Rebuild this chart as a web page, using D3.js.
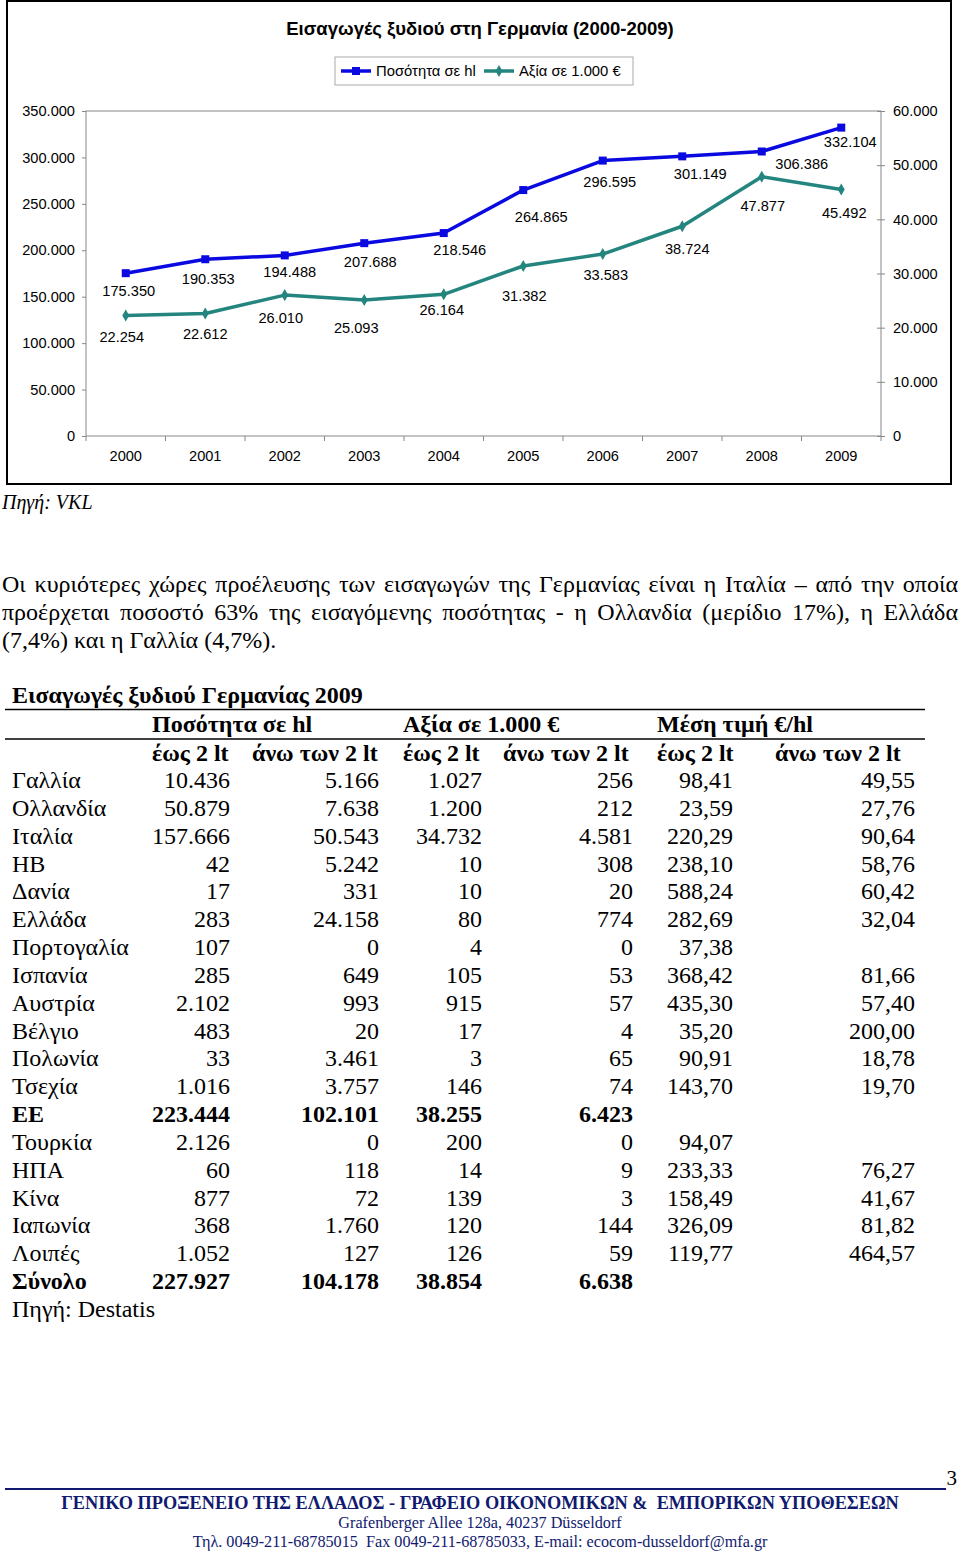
<!DOCTYPE html>
<html>
<head>
<meta charset="utf-8">
<script src="https://cdn.jsdelivr.net/npm/d3@7"></script>
<style>
  body { margin: 0; background: #fff; }
  #wrap { position: relative; width: 960px; height: 1557px; overflow: hidden; }
  #page { position: absolute; left: 0; top: 0; }
  .para { position: absolute; left: 2px; width: 956px; font-family: 'Liberation Serif', serif; font-size: 24px; line-height: 28px; color: #000; white-space: nowrap; }
  .para.just { text-align: justify; text-align-last: justify; }
</style>
</head>
<body>
<div id="wrap">
  <svg id="page" width="960" height="1557"></svg>
</div>
<script>
// chart data
const years = ['2000', '2001', '2002', '2003', '2004', '2005', '2006', '2007', '2008', '2009'];
const quantity = [175350, 190353, 194488, 207688, 218546, 264865, 296595, 301149, 306386, 332104];
const value = [22254, 22612, 26010, 25093, 26164, 31382, 33583, 38724, 47877, 45492];
const leftTicks = [0, 50000, 100000, 150000, 200000, 250000, 300000, 350000];
const rightTicks = [0, 10000, 20000, 30000, 40000, 50000, 60000];

// where Excel put the data labels, relative to each point
const qtyLabelDx = [3, 3, 5, 6, 16, 18, 7, 18, 40, 9];
const qtyLabelDy = [18, 20, 17, 19, 17, 27, 21, 18, 13, 14];
const valLabelDx = [-4, 0, -4, -8, -2, 1, 3, 5, 1, 3];
const valLabelDy = [22, 20, 23, 28, 16, 30, 21, 23, 29, 23];

// table data
const countries = ['Γαλλία', 'Ολλανδία', 'Ιταλία', 'ΗΒ', 'Δανία', 'Ελλάδα', 'Πορτογαλία', 'Ισπανία',
  'Αυστρία', 'Βέλγιο', 'Πολωνία', 'Τσεχία', 'ΕΕ', 'Τουρκία', 'ΗΠΑ', 'Κίνα', 'Ιαπωνία', 'Λοιπές', 'Σύνολο'];
const boldRows = ['ΕΕ', 'Σύνολο'];
const qtyUpTo2 = [10436, 50879, 157666, 42, 17, 283, 107, 285, 2102, 483, 33, 1016, 223444, 2126, 60, 877, 368, 1052, 227927];
const qtyOver2 = [5166, 7638, 50543, 5242, 331, 24158, 0, 649, 993, 20, 3461, 3757, 102101, 0, 118, 72, 1760, 127, 104178];
const valUpTo2 = [1027, 1200, 34732, 10, 10, 80, 4, 105, 915, 17, 3, 146, 38255, 200, 14, 139, 120, 126, 38854];
const valOver2 = [256, 212, 4581, 308, 20, 774, 0, 53, 57, 4, 65, 74, 6423, 0, 9, 3, 144, 59, 6638];
const priceUpTo2 = [98.41, 23.59, 220.29, 238.10, 588.24, 282.69, 37.38, 368.42, 435.30, 35.20, 90.91, 143.70, null, 94.07, 233.33, 158.49, 326.09, 119.77, null];
const priceOver2 = [49.55, 27.76, 90.64, 58.76, 60.42, 32.04, null, 81.66, 57.40, 200.00, 18.78, 19.70, null, null, 76.27, 41.67, 81.82, 464.57, null];
const groupHeads = ['Ποσότητα σε hl', 'Αξία σε 1.000 €', 'Μέση τιμή €/hl'];
const subHeads = ['έως 2 lt', 'άνω των 2 lt', 'έως 2 lt', 'άνω των 2 lt', 'έως 2 lt', 'άνω των 2 lt'];

const paragraphLines = [
  'Οι κυριότερες χώρες προέλευσης των εισαγωγών της Γερμανίας είναι η Ιταλία – από την οποία',
  'προέρχεται ποσοστό 63% της εισαγόμενης ποσότητας - η Ολλανδία (μερίδιο 17%), η Ελλάδα',
  '(7,4%) και η Γαλλία (4,7%).',
];
const footerLines = [
  'ΓΕΝΙΚΟ ΠΡΟΞΕΝΕΙΟ ΤΗΣ ΕΛΛΑΔΟΣ - ΓΡΑΦΕΙΟ ΟΙΚΟΝΟΜΙΚΩΝ &  ΕΜΠΟΡΙΚΩΝ ΥΠΟΘΕΣΕΩΝ',
  'Grafenberger Allee 128a, 40237 Düsseldorf',
  'Τηλ. 0049-211-68785015  Fax 0049-211-68785033, E-mail: ecocom-dusseldorf@mfa.gr',
];

const gr = d3.formatLocale({ decimal: ',', thousands: '.', grouping: [3], currency: ['', '€'] });
const fmtInt = gr.format(',d');
const fmtPrice = gr.format(',.2f');

const BLUE = '#0a0ae0';
const TEAL = '#24857f';
const SANS = "'Liberation Sans', Arial, sans-serif";
const SERIF = "'Liberation Serif', 'Times New Roman', serif";

const svg = d3.select('#page');

drawChart();
drawParagraph();
drawTable();
drawFooter();

function drawChart() {
  const g = svg.append('g').attr('font-family', SANS).attr('font-size', 14.6);

  g.append('rect')
    .attr('x', 7).attr('y', 1).attr('width', 944).attr('height', 483)
    .attr('fill', '#fff').attr('stroke', '#000').attr('stroke-width', 2);

  g.append('text')
    .attr('x', 480).attr('y', 28)
    .attr('text-anchor', 'middle').attr('dominant-baseline', 'central')
    .attr('font-weight', 'bold').attr('font-size', 18.5)
    .text('Εισαγωγές ξυδιού στη Γερμανία (2000-2009)');

  const x = d3.scaleBand().domain(years).range([86, 881]);
  const yLeft = d3.scaleLinear().domain([0, 350000]).range([436, 111]);
  const yRight = d3.scaleLinear().domain([0, 60000]).range([436, 111]);
  const cx = (i) => x(years[i]) + x.bandwidth() / 2;

  g.append('rect')
    .attr('x', 86).attr('y', 111).attr('width', 795).attr('height', 325)
    .attr('fill', 'none').attr('stroke', '#888').attr('stroke-width', 1);

  const leftAxis = g.append('g')
    .attr('transform', 'translate(86,0)')
    .call(d3.axisLeft(yLeft).tickValues(leftTicks).tickFormat(fmtInt).tickSize(4).tickPadding(7));
  const rightAxis = g.append('g')
    .attr('transform', 'translate(881,0)')
    .call(d3.axisRight(yRight).tickValues(rightTicks).tickFormat(fmtInt).tickSize(4).tickPadding(8));
  rightAxis.selectAll('.tick line').attr('x1', -4);
  const bottomAxis = g.append('g')
    .attr('transform', 'translate(0,436)')
    .call(d3.axisBottom(x).tickSize(0).tickPadding(15));
  [leftAxis, rightAxis, bottomAxis].forEach((a) => {
    a.select('.domain').remove();
    a.selectAll('.tick line').attr('stroke', '#888');
    a.selectAll('text').attr('font-family', SANS).attr('font-size', 14.6).attr('fill', '#000');
  });

  // category ticks sit on the band edges
  g.append('g')
    .selectAll('line')
    .data(years.concat(['end']))
    .join('line')
    .attr('x1', (d) => (d === 'end' ? 881 : x(d)))
    .attr('x2', (d) => (d === 'end' ? 881 : x(d)))
    .attr('y1', 436).attr('y2', 441)
    .attr('stroke', '#888');

  const qtyLine = d3.line().x((d, i) => cx(i)).y((d) => yLeft(d));
  const valLine = d3.line().x((d, i) => cx(i)).y((d) => yRight(d));

  g.append('path').datum(value)
    .attr('d', valLine).attr('fill', 'none')
    .attr('stroke', TEAL).attr('stroke-width', 3.5).attr('stroke-linejoin', 'round');
  g.append('path').datum(quantity)
    .attr('d', qtyLine).attr('fill', 'none')
    .attr('stroke', BLUE).attr('stroke-width', 3.5).attr('stroke-linejoin', 'round');

  g.append('g').selectAll('path')
    .data(value)
    .join('path')
    .attr('transform', (d, i) => `translate(${cx(i)},${yRight(d)})`)
    .attr('d', d3.symbol(d3.symbolDiamond, 42))
    .attr('fill', TEAL);
  g.append('g').selectAll('rect')
    .data(quantity)
    .join('rect')
    .attr('x', (d, i) => cx(i) - 4).attr('y', (d) => yLeft(d) - 4)
    .attr('width', 8).attr('height', 8)
    .attr('fill', BLUE);

  g.append('g').selectAll('text')
    .data(quantity)
    .join('text')
    .attr('x', (d, i) => cx(i) + qtyLabelDx[i])
    .attr('y', (d, i) => yLeft(d) + qtyLabelDy[i])
    .attr('text-anchor', 'middle').attr('dominant-baseline', 'central')
    .text((d) => fmtInt(d));
  g.append('g').selectAll('text')
    .data(value)
    .join('text')
    .attr('x', (d, i) => cx(i) + valLabelDx[i])
    .attr('y', (d, i) => yRight(d) + valLabelDy[i])
    .attr('text-anchor', 'middle').attr('dominant-baseline', 'central')
    .text((d) => fmtInt(d));

  // legend
  const lg = g.append('g').attr('font-size', 14.8);
  lg.append('rect')
    .attr('x', 335).attr('y', 57).attr('width', 298).attr('height', 28)
    .attr('fill', '#fff').attr('stroke', '#aaa').attr('stroke-width', 1);
  const items = [
    { label: 'Ποσότητα σε hl', color: BLUE, x: 341, shape: 'square' },
    { label: 'Αξία σε 1.000 €', color: TEAL, x: 484, shape: 'diamond' },
  ];
  items.forEach((it) => {
    lg.append('line')
      .attr('x1', it.x).attr('x2', it.x + 30).attr('y1', 71).attr('y2', 71)
      .attr('stroke', it.color).attr('stroke-width', 3.5);
    if (it.shape === 'square') {
      lg.append('rect').attr('x', it.x + 11).attr('y', 67).attr('width', 8).attr('height', 8).attr('fill', it.color);
    } else {
      lg.append('path').attr('transform', `translate(${it.x + 15},71)`)
        .attr('d', d3.symbol(d3.symbolDiamond, 42)).attr('fill', it.color);
    }
    lg.append('text')
      .attr('x', it.x + 35).attr('y', 71)
      .attr('dominant-baseline', 'central')
      .text(it.label);
  });

  svg.append('text')
    .attr('x', 2).attr('y', 502)
    .attr('dominant-baseline', 'central')
    .attr('font-family', SERIF).attr('font-style', 'italic').attr('font-size', 20)
    .text('Πηγή: VKL');
}

function drawParagraph() {
  d3.select('#wrap').selectAll('div.para')
    .data(paragraphLines)
    .join('div')
    .attr('class', (d, i) => (i < paragraphLines.length - 1 ? 'para just' : 'para'))
    .style('top', (d, i) => `${570 + i * 28}px`)
    .text((d) => d);
}

function drawTable() {
  const g = svg.append('g').attr('font-family', SERIF).attr('font-size', 24).attr('fill', '#000');
  const rowY = d3.scalePoint().domain(countries).range([780, 1281]);
  const colRight = [230, 379, 482, 633, 733, 915];
  const subLeft = [152, 252, 403, 503, 657, 775];
  const groupLeft = [152, 403, 657];

  g.append('text')
    .attr('x', 12).attr('y', 695).attr('dominant-baseline', 'central')
    .attr('font-weight', 'bold')
    .text('Εισαγωγές ξυδιού Γερμανίας 2009');
  g.append('line').attr('x1', 5).attr('x2', 925).attr('y1', 709.5).attr('y2', 709.5)
    .attr('stroke', '#000').attr('stroke-width', 1.5);
  g.append('line').attr('x1', 5).attr('x2', 925).attr('y1', 739).attr('y2', 739)
    .attr('stroke', '#000').attr('stroke-width', 1.5);

  g.append('g').selectAll('text')
    .data(groupHeads)
    .join('text')
    .attr('x', (d, i) => groupLeft[i]).attr('y', 724)
    .attr('dominant-baseline', 'central').attr('font-weight', 'bold')
    .text((d) => d);
  g.append('g').selectAll('text')
    .data(subHeads)
    .join('text')
    .attr('x', (d, i) => subLeft[i]).attr('y', 753)
    .attr('dominant-baseline', 'central').attr('font-weight', 'bold')
    .text((d) => d);

  const columns = [
    { values: qtyUpTo2, fmt: fmtInt },
    { values: qtyOver2, fmt: fmtInt },
    { values: valUpTo2, fmt: fmtInt },
    { values: valOver2, fmt: fmtInt },
    { values: priceUpTo2, fmt: fmtPrice },
    { values: priceOver2, fmt: fmtPrice },
  ];

  const rows = g.append('g').selectAll('g')
    .data(countries)
    .join('g')
    .attr('transform', (d) => `translate(0,${rowY(d)})`)
    .attr('font-weight', (d) => (boldRows.includes(d) ? 'bold' : 'normal'));

  rows.append('text')
    .attr('x', 12).attr('dominant-baseline', 'central')
    .text((d) => d);

  columns.forEach((col, c) => {
    rows.append('text')
      .attr('x', colRight[c]).attr('text-anchor', 'end').attr('dominant-baseline', 'central')
      .text((d, i) => (col.values[i] == null ? '' : col.fmt(col.values[i])));
  });

  g.append('text')
    .attr('x', 12).attr('y', rowY('Σύνολο') + rowY.step()).attr('dominant-baseline', 'central')
    .text('Πηγή: Destatis');
}

function drawFooter() {
  const NAVY = '#111a6e';
  const g = svg.append('g').attr('font-family', SERIF);
  g.append('line').attr('x1', 5).attr('x2', 946).attr('y1', 1489).attr('y2', 1489)
    .attr('stroke', NAVY).attr('stroke-width', 2);
  g.append('text')
    .attr('x', 957).attr('y', 1478).attr('text-anchor', 'end').attr('dominant-baseline', 'central')
    .attr('font-size', 21).text('3');

  const sizes = [18.3, 16.2, 16.2];
  const ys = [1503, 1523, 1542];
  g.selectAll('text.f')
    .data(footerLines)
    .join('text')
    .attr('class', 'f')
    .attr('x', 480).attr('y', (d, i) => ys[i])
    .attr('text-anchor', 'middle').attr('dominant-baseline', 'central')
    .attr('font-size', (d, i) => sizes[i])
    .attr('font-weight', (d, i) => (i === 0 ? 'bold' : 'normal'))
    .attr('fill', NAVY)
    .style('white-space', 'pre')
    .text((d) => d);
}
</script>
</body>
</html>
